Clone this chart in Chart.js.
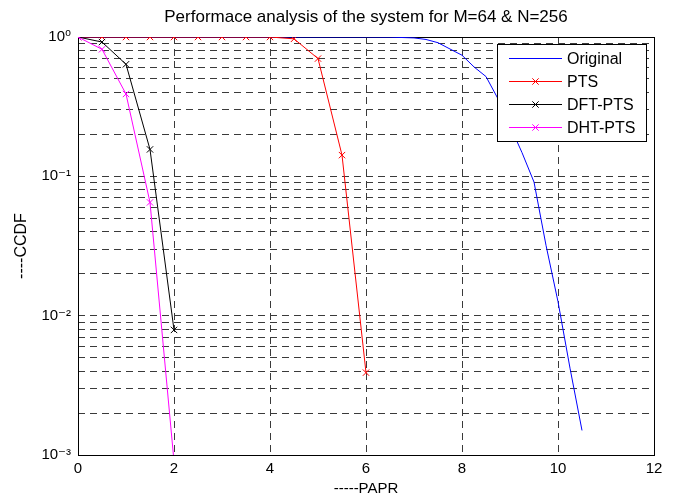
<!DOCTYPE html>
<html><head><meta charset="utf-8">
<script src="https://cdn.jsdelivr.net/npm/chart.js@4"></script>
<style>html,body{margin:0;padding:0;background:#fff}canvas{display:block}</style>
</head><body>
<canvas id="c" width="678" height="495"></canvas>
<script>
const titleText = 'Performace analysis of the system for M=64 & N=256';
const xLabel = '-----PAPR';
const yLabel = '----CCDF';
const seriesNames = ['Original', 'PTS', 'DFT-PTS', 'DHT-PTS'];
const seriesColors = ['#0000ff', '#ff0000', '#000000', '#ff00ff'];

const originalX = [0, 6, 6.5, 7, 7.25, 7.5, 7.75, 8, 8.25, 8.5, 8.75, 9, 9.25, 9.5, 9.75, 10, 10.25, 10.5];
const originalY = [1, 1, 0.998, 0.985, 0.96, 0.91, 0.82, 0.74, 0.61, 0.52, 0.36, 0.23, 0.148, 0.091, 0.032, 0.0126, 0.0042, 0.0015];

const ptsX = [0, 0.5, 1, 1.5, 2, 2.5, 3, 3.5, 4, 4.5, 5, 5.5, 6];
const ptsY = [1, 1, 1, 1, 1, 1, 1, 1, 1, 0.97, 0.70, 0.142, 0.0039];

const dftX = [0, 0.5, 1, 1.5, 2];
const dftY = [1, 0.92, 0.637, 0.156, 0.0079];

const dhtX = [0, 0.5, 1, 1.5, 2];
const dhtY = [1, 0.816, 0.39, 0.065, 0.0009];

const xTickStep = 2;
const yTickValues = [0.001,0.002,0.003,0.004,0.005,0.006,0.007,0.008,0.009,
                     0.01,0.02,0.03,0.04,0.05,0.06,0.07,0.08,0.09,
                     0.1,0.2,0.3,0.4,0.5,0.6,0.7,0.8,0.9,1];

const FONT = '"Liberation Sans", Arial, Helvetica, "DejaVu Sans", sans-serif';
const supMap = {'0':'\u2070','1':'\u00B9','2':'\u00B2','3':'\u00B3','4':'\u2074','5':'\u2075','6':'\u2076','7':'\u2077','8':'\u2078','9':'\u2079','-':'\u207B'};
function decadeLabel(v) {
  const l = Math.log10(v);
  const r = Math.round(l);
  if (Math.abs(l - r) > 1e-6) return '';
  const e = r === 0 ? '0' : String(r);
  return '10' + e.split('').map(c => supMap[c]).join('');
}
function pts(xs, ys) { return xs.map((x, i) => ({x: x, y: ys[i]})); }

const boxPlugin = {
  id: 'box',
  beforeDatasetsDraw(chart) {
    const a = chart.chartArea, ctx = chart.ctx;
    ctx.save();
    ctx.strokeStyle = '#000';
    ctx.lineWidth = 1;
    ctx.strokeRect(Math.round(a.left) + 0.5, Math.round(a.top) + 0.5, Math.round(a.right - a.left), Math.round(a.bottom - a.top));
    ctx.restore();
  }
};

const legendPlugin = {
  id: 'insideLegend',
  afterDraw(chart) {
    const a = chart.chartArea, ctx = chart.ctx;
    const w = 149, h = 97;
    const x0 = Math.round(a.right - 8 - w), y0 = Math.round(a.top + 7);
    ctx.save();
    ctx.fillStyle = '#fff';
    ctx.fillRect(x0, y0, w, h);
    ctx.strokeStyle = '#000';
    ctx.lineWidth = 1;
    ctx.strokeRect(x0 + 0.5, y0 + 0.5, w, h);
    chart.data.datasets.forEach((ds, i) => {
      const y = y0 + 14.5 + i * 23;
      ctx.strokeStyle = ds.borderColor;
      ctx.lineWidth = 1;
      ctx.beginPath();
      ctx.moveTo(x0 + 12, y);
      ctx.lineTo(x0 + 65, y);
      ctx.stroke();
      if (ds.pointRadius > 0) {
        Chart.helpers.drawPoint(ctx, {pointStyle: 'crossRot', radius: ds.pointRadius, borderWidth: 1, rotation: 0}, x0 + 38.5, y);
      }
      ctx.fillStyle = '#000';
      ctx.font = '16px ' + FONT;
      ctx.textBaseline = 'middle';
      ctx.textAlign = 'left';
      ctx.fillText(ds.label, x0 + 70, y + 1);
    });
    ctx.restore();
  }
};

function mkDs(i, data, marker, order) {
  return {
    label: seriesNames[i],
    data: data,
    borderColor: seriesColors[i],
    backgroundColor: seriesColors[i],
    borderWidth: 1,
    pointStyle: 'crossRot',
    pointRadius: marker ? 4.5 : 0,
    pointHoverRadius: marker ? 4.5 : 0,
    pointBorderWidth: 1,
    tension: 0,
    fill: false,
    order: order
  };
}

new Chart(document.getElementById('c'), {
  type: 'line',
  data: {
    datasets: [
      mkDs(0, pts(originalX, originalY), false, 4),
      mkDs(1, pts(ptsX, ptsY), true, 3),
      mkDs(2, pts(dftX, dftY), true, 2),
      mkDs(3, pts(dhtX, dhtY), true, 1)
    ]
  },
  options: {
    responsive: false,
    animation: false,
    devicePixelRatio: 1,
    layout: {padding: {left: 0, right: 24, top: 0, bottom: 0}},
    plugins: {
      legend: {display: false},
      tooltip: {enabled: false},
      title: {
        display: true,
        text: titleText,
        fullSize: false,
        color: '#000',
        font: {family: FONT, size: 17, weight: 'normal', lineHeight: 1.2},
        padding: {top: 7, bottom: 9.6}
      }
    },
    scales: {
      x: {
        type: 'linear',
        min: 0, max: 12,
        ticks: {stepSize: xTickStep, padding: 5, color: '#000', font: {family: FONT, size: 15}, maxRotation: 0},
        grid: {color: '#3a3a3a', lineWidth: 1, drawTicks: false},
        border: {display: false, dash: [7, 5]},
        title: {display: true, text: xLabel, color: '#000', font: {family: FONT, size: 15, lineHeight: 0.8}, padding: {top: 0, bottom: 0}},
        afterFit(s) { s.height = 40; }
      },
      y: {
        type: 'logarithmic',
        min: 0.001, max: 1,
        afterBuildTicks(s) { s.ticks = yTickValues.map(v => ({value: v})); },
        ticks: {autoSkip: false, padding: 7, color: '#000', font: {family: FONT, size: 15}, callback: (v) => decadeLabel(v)},
        grid: {color: '#3a3a3a', lineWidth: 1, drawTicks: false},
        border: {display: false, dash: [7, 5]},
        title: {display: true, text: yLabel, color: '#000', font: {family: FONT, size: 16}, padding: {top: 12, bottom: 0}},
        afterFit(s) { s.width = 78; }
      }
    }
  },
  plugins: [boxPlugin, legendPlugin]
});
</script>
</body></html>
